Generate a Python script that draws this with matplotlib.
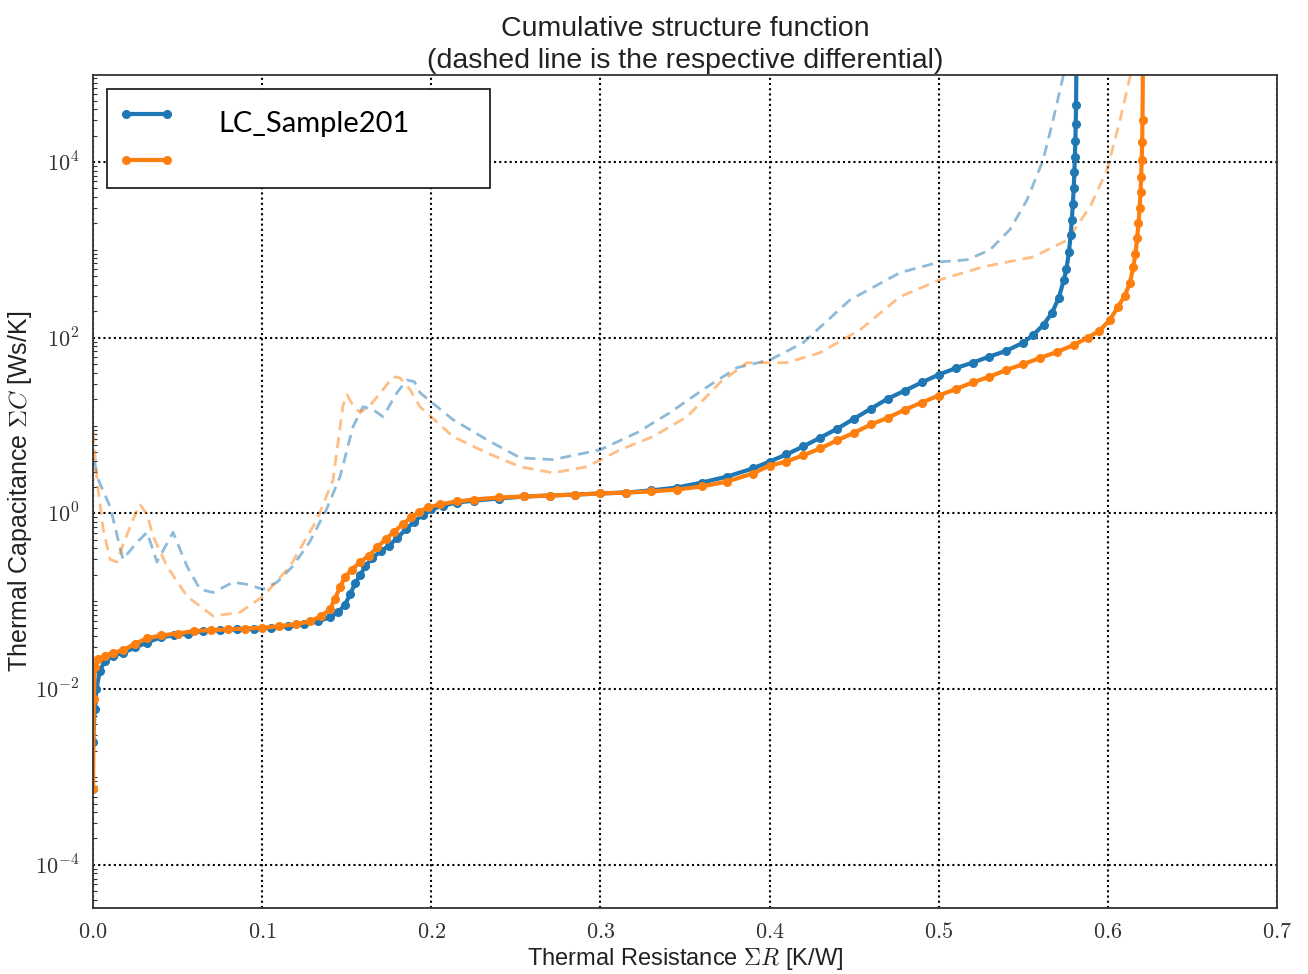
import numpy as np
import matplotlib
matplotlib.use("Agg")
import matplotlib.pyplot as plt
from matplotlib.lines import Line2D
from matplotlib.legend_handler import HandlerLine2D
from matplotlib.ticker import FuncFormatter, LogLocator, NullFormatter

plt.rcParams['mathtext.fontset'] = 'cm'
plt.rcParams['font.family'] = ['Liberation Sans', 'DejaVu Sans']

# ---------------- data ----------------
blue_R = [0.000, 0.001, 0.002, 0.004, 0.007, 0.012, 0.018, 0.025, 0.032, 0.040,
          0.048, 0.056, 0.065, 0.075, 0.085, 0.095, 0.105, 0.115, 0.125, 0.133,
          0.140, 0.145, 0.149, 0.152, 0.155, 0.158, 0.161, 0.165, 0.170, 0.175,
          0.180, 0.185, 0.190, 0.195, 0.200, 0.207, 0.215, 0.225, 0.240, 0.255,
          0.270, 0.285, 0.300, 0.315, 0.330, 0.345, 0.360, 0.375, 0.390, 0.400,
          0.410, 0.420, 0.430, 0.440, 0.450, 0.460, 0.470, 0.480, 0.490, 0.500,
          0.510, 0.520, 0.530, 0.540, 0.550, 0.556, 0.562, 0.567, 0.571, 0.574,
          0.5755, 0.5770, 0.5780, 0.5787, 0.5793, 0.5798, 0.5802, 0.5805, 0.5808, 0.5810,
          0.5812, 0.5814]
blue_C = [2.5e-3, 5.9e-3, 0.010, 0.016, 0.021, 0.024, 0.026, 0.030, 0.034, 0.039,
          0.041, 0.043, 0.046, 0.047, 0.048, 0.049, 0.050, 0.052, 0.055, 0.059,
          0.066, 0.075, 0.092, 0.12, 0.16, 0.20, 0.25, 0.31, 0.37, 0.43,
          0.53, 0.66, 0.81, 0.97, 1.11, 1.23, 1.33, 1.40, 1.48, 1.56,
          1.60, 1.64, 1.69, 1.73, 1.83, 1.97, 2.25, 2.63, 3.25, 3.9,
          4.7, 5.8, 7.3, 9.2, 12.0, 15.6, 20.3, 25.0, 31.0, 38.0,
          45.0, 52.0, 61.0, 71.0, 88.0, 108.0, 141.0, 192.0, 285.0, 456.0,
          600.0, 950.0, 1480.0, 2200.0, 3300.0, 5000.0, 7600.0, 11500.0, 17500.0, 27000.0,
          45000.0, 1.2e5]

orange_R = [0.000, 0.0005, 0.001, 0.003, 0.007, 0.012, 0.018, 0.025, 0.032, 0.040,
            0.050, 0.060, 0.070, 0.080, 0.090, 0.100, 0.110, 0.120, 0.128, 0.135,
            0.140, 0.143, 0.146, 0.149, 0.153, 0.158, 0.163, 0.168, 0.173, 0.178,
            0.183, 0.188, 0.193, 0.198, 0.205, 0.215, 0.225, 0.240, 0.255, 0.270,
            0.285, 0.300, 0.315, 0.330, 0.345, 0.360, 0.375, 0.390, 0.400, 0.410,
            0.420, 0.430, 0.440, 0.450, 0.460, 0.470, 0.480, 0.490, 0.500, 0.510,
            0.520, 0.530, 0.540, 0.550, 0.560, 0.570, 0.580, 0.588, 0.595, 0.601,
            0.606, 0.610, 0.613, 0.615, 0.6163, 0.6173, 0.6181, 0.6188, 0.6193, 0.6197,
            0.6200, 0.6203, 0.6205, 0.6207]
orange_C = [7.3e-4, 7.7e-3, 0.018, 0.022, 0.024, 0.026, 0.028, 0.033, 0.038, 0.041,
            0.043, 0.046, 0.047, 0.048, 0.049, 0.050, 0.052, 0.055, 0.059, 0.068,
            0.081, 0.106, 0.145, 0.19, 0.23, 0.28, 0.33, 0.41, 0.51, 0.62,
            0.75, 0.90, 1.05, 1.17, 1.27, 1.37, 1.44, 1.52, 1.56, 1.60,
            1.64, 1.69, 1.73, 1.78, 1.87, 2.03, 2.31, 2.85, 3.5, 3.9,
            4.6, 5.5, 6.8, 8.3, 10.3, 12.3, 15.2, 18.3, 22.0, 26.0,
            31.0, 36.0, 43.0, 50.0, 59.0, 69.0, 83.0, 100.0, 120.0, 158.0,
            224.0, 302.0, 417.0, 631.0, 900.0, 1350.0, 2000.0, 3000.0, 4500.0, 6800.0,
            10500.0, 17000.0, 30000.0, 1.3e5]

blue_dR = [0.001, 0.0024, 0.0101, 0.0177, 0.026, 0.032, 0.0378, 0.0473, 0.0556, 0.0633,
           0.071, 0.0828, 0.091, 0.1005, 0.1088, 0.118, 0.128, 0.138, 0.146, 0.1537,
           0.1596, 0.1655, 0.1715, 0.1797, 0.1856, 0.190, 0.1933, 0.2128, 0.2329, 0.2525,
           0.272, 0.2998, 0.3216, 0.341, 0.3607, 0.3807, 0.4003, 0.4198, 0.4476, 0.4771,
           0.5008, 0.5167, 0.5303, 0.5421, 0.5522, 0.5617, 0.5676, 0.5735, 0.576]
blue_dC = [3.9, 2.6, 1.2, 0.30, 0.47, 0.61, 0.28, 0.61, 0.25, 0.137,
           0.126, 0.165, 0.156, 0.137, 0.165, 0.25, 0.47, 1.11, 2.6, 9.7,
           16.4, 15.2, 12.6, 23.7, 33.0, 31.6, 23.7, 11.7, 6.9, 4.3,
           4.1, 5.3, 8.3, 14.0, 25.7, 45.6, 56.0, 87.6, 270.0, 550.0,
           730.0, 770.0, 1000.0, 1700.0, 3700.0, 10500.0, 30000.0, 93000.0, 1.5e5]

orange_dR = [0.000, 0.0024, 0.006, 0.0101, 0.0142, 0.0177, 0.0236, 0.0278, 0.032, 0.0355,
             0.0438, 0.0556, 0.071, 0.0869, 0.1005, 0.1165, 0.1324, 0.1419, 0.1478, 0.1502,
             0.1537, 0.1579, 0.1638, 0.1715, 0.1774, 0.1815, 0.1874, 0.1933, 0.2128, 0.2329,
             0.2525, 0.272, 0.292, 0.3116, 0.3311, 0.3512, 0.3707, 0.3867, 0.4003, 0.4103,
             0.4298, 0.4535, 0.4771, 0.5008, 0.5262, 0.5557, 0.5759, 0.5895, 0.5995, 0.6072,
             0.6131, 0.615]
orange_dC = [8.5, 2.4, 0.66, 0.30, 0.28, 0.44, 0.85, 1.27, 0.97, 0.55,
             0.25, 0.114, 0.068, 0.075, 0.114, 0.25, 0.85, 2.4, 17.0, 22.4,
             17.0, 14.0, 17.0, 25.7, 36.0, 35.0, 25.7, 16.4, 7.5, 4.9,
             3.4, 2.9, 3.4, 5.3, 7.5, 12.6, 30.9, 52.0, 52.0, 52.0,
             67.5, 123.0, 293.0, 457.0, 640.0, 830.0, 1290.0, 3090.0, 8100.0, 30000.0,
             93000.0, 1.5e5]

series_labels = ["LC_Sample201", ""]
xticks = [0.0, 0.1, 0.2, 0.3, 0.4, 0.5, 0.6, 0.7]
yticks = [1e-4, 1e-2, 1e0, 1e2, 1e4]

BLUE = '#1f77b4'
ORANGE = '#ff7f0e'

# ---------------- figure ----------------
W, H = 1308, 974
fig = plt.figure(figsize=(W / 100, H / 100), dpi=100)
L, R_, T, B = 93, 1277, 75, 908
ax = fig.add_axes([L / W, 1 - B / H, (R_ - L) / W, (B - T) / H])

ax.set_yscale('log')

# differentials (dashed)
ax.plot(blue_dR, blue_dC, color=BLUE, lw=2, alpha=0.5, linestyle=(0, (4, 2.5)))
ax.plot(orange_dR, orange_dC, color=ORANGE, lw=2, alpha=0.5, linestyle=(0, (4, 2.5)))
# cumulative
ax.plot(blue_R, blue_C, color=BLUE, lw=3, marker='o', ms=5.5, mec=BLUE)
ax.plot(orange_R, orange_C, color=ORANGE, lw=3, marker='o', ms=5.5, mec=ORANGE)

ax.set_xlim(0.0, 0.7)
ax.set_ylim(10 ** -4.49, 10 ** 4.99)
ax.set_xticks(xticks)
ax.set_yticks(yticks)
ax.yaxis.set_minor_locator(LogLocator(base=10, subs=np.arange(1, 10), numticks=40))
ax.yaxis.set_minor_formatter(NullFormatter())
ax.xaxis.set_major_formatter(FuncFormatter(lambda v, p: r'$%.1f$' % v))
ax.yaxis.set_major_formatter(FuncFormatter(lambda v, p: r'$10^{%d}$' % int(round(np.log10(v)))))
ax.tick_params(axis='both', which='major', labelsize=16, direction='in', length=0, pad=10)
ax.tick_params(axis='y', which='minor', direction='in', length=3, width=0.8, color='#333333')
for lab in ax.get_xticklabels() + ax.get_yticklabels():
    lab.set_color('#333333')

ax.grid(True, which='major', color='k', linestyle=(0, (1, 1.5)), linewidth=1.5)
for s in ax.spines.values():
    s.set_color('#333333')
    s.set_linewidth(1.3)

ax.set_xlabel(r'Thermal Resistance $\Sigma R$ [K/W]', fontsize=17, labelpad=2, color='#222222')
ax.set_ylabel(r'Thermal Capacitance $\Sigma C$ [Ws/K]', fontsize=18, color='#222222')
ax.yaxis.set_label_coords(-0.05, 0.5)
ax.set_title('Cumulative structure function\n(dashed line is the respective differential)',
             fontsize=20.5, linespacing=1.3, pad=5.4, color='#222222')

handles = [Line2D([], [], color=BLUE, lw=3, marker='o', ms=5.5),
           Line2D([], [], color=ORANGE, lw=3, marker='o', ms=5.5)]
# legend box in pixel coordinates -> axes fraction
lx0, lx1, ly0 = 107, 490, 89
bb = ((lx0 - L) / (R_ - L), 1 - (ly0 - T) / (B - T), (lx1 - lx0) / (R_ - L), 0.0)
leg = ax.legend(handles, [" ", " "], loc='upper left', bbox_to_anchor=bb, mode='expand',
                numpoints=2, handlelength=1.875, handletextpad=1.0, labelspacing=0.70,
                borderpad=0.5, borderaxespad=0.0, fancybox=False, framealpha=1,
                handler_map={Line2D: HandlerLine2D(marker_pad=0.2)},
                prop={'family': 'Lato', 'size': 20})
leg.get_frame().set_edgecolor('#222222')
leg.get_frame().set_linewidth(1.3)

# legend label text (placed to match the original's offset)
fig.text(218 / W, 1 - 124 / H, series_labels[0], fontsize=21, family='Lato',
         ha='left', va='center', color='black')

fig.savefig('out.png', dpi=100)
